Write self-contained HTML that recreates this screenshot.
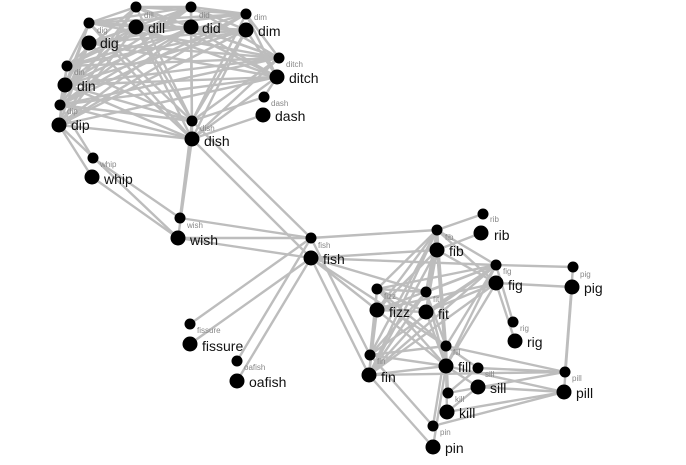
<!DOCTYPE html>
<html><head><meta charset="utf-8"><style>
html,body{margin:0;padding:0;background:#fff;width:686px;height:465px;overflow:hidden}
svg{display:block}
.b{font-family:"Liberation Sans",sans-serif;font-size:14px;fill:#111}
.s{font-family:"Liberation Sans",sans-serif;font-size:8px;fill:#888}
</style></head><body>
<svg id="g" width="686" height="465" viewBox="0 0 686 465">
<g id="edges" stroke="#bdbdbd" stroke-width="2.4" fill="none"></g>
<g id="nodes" fill="#000"></g>
<g id="labels">
<text class="s" x="97" y="33">dig</text><text class="b" x="100" y="48">dig</text>
<text class="s" x="144" y="18">dill</text><text class="b" x="148" y="33">dill</text>
<text class="s" x="199" y="18">did</text><text class="b" x="202" y="33">did</text>
<text class="s" x="254" y="20">dim</text><text class="b" x="258" y="36">dim</text>
<text class="s" x="286" y="67">ditch</text><text class="b" x="289" y="83">ditch</text>
<text class="s" x="74" y="75">din</text><text class="b" x="77" y="91">din</text>
<text class="s" x="67" y="114">dip</text><text class="b" x="71" y="130">dip</text>
<text class="s" x="271" y="106">dash</text><text class="b" x="275" y="121">dash</text>
<text class="s" x="200" y="131">dish</text><text class="b" x="204" y="146">dish</text>
<text class="s" x="100" y="167">whip</text><text class="b" x="104" y="184">whip</text>
<text class="s" x="187" y="228">wish</text><text class="b" x="190" y="245">wish</text>
<text class="s" x="318" y="248">fish</text><text class="b" x="323" y="264">fish</text>
<text class="s" x="490" y="222">rib</text><text class="b" x="494" y="240">rib</text>
<text class="s" x="445" y="240">fib</text><text class="b" x="449" y="256">fib</text>
<text class="s" x="503" y="274">fig</text><text class="b" x="508" y="290">fig</text>
<text class="s" x="580" y="277">pig</text><text class="b" x="584" y="293">pig</text>
<text class="s" x="384" y="299">fizz</text><text class="b" x="389" y="317">fizz</text>
<text class="s" x="433" y="302">fit</text><text class="b" x="438" y="319">fit</text>
<text class="s" x="520" y="331">rig</text><text class="b" x="527" y="347">rig</text>
<text class="s" x="197" y="333">fissure</text><text class="b" x="202" y="351">fissure</text>
<text class="s" x="244" y="370">oafish</text><text class="b" x="249" y="387">oafish</text>
<text class="s" x="377" y="364">fin</text><text class="b" x="381" y="382">fin</text>
<text class="s" x="453" y="355">fill</text><text class="b" x="458" y="372">fill</text>
<text class="s" x="485" y="377">sill</text><text class="b" x="490" y="393">sill</text>
<text class="s" x="455" y="402">kill</text><text class="b" x="459" y="418">kill</text>
<text class="s" x="572" y="381">pill</text><text class="b" x="576" y="398">pill</text>
<text class="s" x="440" y="435">pin</text><text class="b" x="445" y="453">pin</text>
</g>
</svg>
<script>
var N={dig:[89,23,89,43],dill:[136,7,136,27],did:[191,7,191,27],dim:[246,14,246,30],ditch:[279,58,277,77],din:[67,66,65,85],dip:[60,105,59,125],dash:[264,97,263,115],dish:[192,121,192,139],whip:[93,158,92,177],wish:[180,218,178,238],fish:[311,238,311,258],rib:[483,214,481,233],fib:[437,230,437,250],fig:[496,265,496,283],pig:[573,267,572,287],fizz:[377,289,377,310],fit:[426,292,426,312],rig:[513,322,515,341],fissure:[190,324,190,344],oafish:[237,361,237,381],fin:[370,355,369,375],fill:[446,346,446,366],sill:[478,368,478,387],kill:[448,393,447,412],pill:[565,372,564,392],pin:[433,426,433,447]};
var E=document.getElementById('edges'),ns='http://www.w3.org/2000/svg';
function L(a,b,c,d){var l=document.createElementNS(ns,'line');l.setAttribute('x1',a);l.setAttribute('y1',b);l.setAttribute('x2',c);l.setAttribute('y2',d);E.appendChild(l);}
function e(a,b,ia,ib){var p=N[a],q=N[b];L(p[ia*2],p[ia*2+1],q[ib*2],q[ib*2+1]);}
function both(a,b){e(a,b,0,0);e(a,b,1,1);}
var tc=['dig','dill','did','dim','ditch','din','dip','dish'];
for(var i=0;i<tc.length;i++)for(var j=i+1;j<tc.length;j++){both(tc[i],tc[j]);if((i+j)%2)e(tc[i],tc[j],0,1);else e(tc[i],tc[j],1,0);}
both('dash','dish');e('dash','ditch',0,1);
both('dip','whip');e('dip','wish',1,1);both('whip','wish');both('dish','wish');
both('dish','fish');both('wish','fish');e('wish','fish',1,0);
both('fish','fib');e('fish','fissure',0,0);e('fish','fissure',1,1);both('fish','oafish');
both('fish','fin');e('fish','fizz',1,1);e('fish','fit',1,0);e('fish','fig',1,0);e('fish','fill',1,0);
var bc=['fib','fig','fizz','fit','fin','fill'];
for(var i=0;i<bc.length;i++)for(var j=i+1;j<bc.length;j++){both(bc[i],bc[j]);e(bc[i],bc[j],0,1);}
both('fib','rib');both('fig','pig');both('fig','rig');both('pig','pill');
both('pill','fill');both('pill','sill');both('pill','kill');e('pill','pin',1,0);e('pill','fin',0,1);
both('fill','sill');both('fill','kill');both('kill','sill');both('fin','pin');both('fill','pin');
var G=document.getElementById('nodes');
for(var k in N){var p=N[k];[[p[0],p[1],5.5],[p[2],p[3],7.5]].forEach(function(c){var o=document.createElementNS(ns,'circle');o.setAttribute('cx',c[0]);o.setAttribute('cy',c[1]);o.setAttribute('r',c[2]);G.appendChild(o);});}
</script>
</body></html>
